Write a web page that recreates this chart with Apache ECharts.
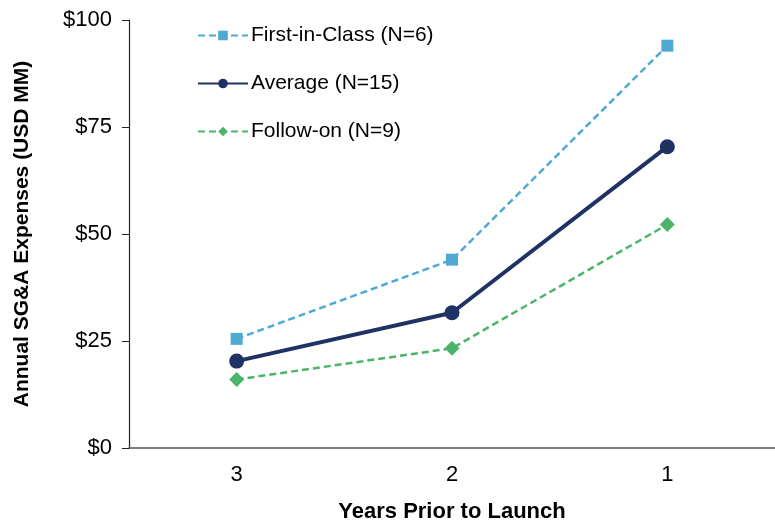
<!DOCTYPE html>
<html><head><meta charset="utf-8">
<script src="https://cdn.jsdelivr.net/npm/echarts@6/dist/echarts.min.js"></script>
<style>html,body{margin:0;padding:0;background:#fff}#c{width:775px;height:520px}</style>
</head><body><div id="c"></div>
<script>
const categories = ['3', '2', '1'];
const firstInClass = [25.5, 44.0, 94.0];
const average = [20.3, 31.6, 70.4];
const followOn = [16.0, 23.3, 52.2];
const seriesNames = ['First-in-Class (N=6)', 'Average (N=15)', 'Follow-on (N=9)'];
const yTicks = [0, 25, 50, 75, 100];

const font = 'Liberation Sans, Arial, sans-serif';
const chart = echarts.init(document.getElementById('c'));
chart.setOption({
  animation: false,
  grid: { left: 129, right: 0, top: 20, bottom: 72, outerBoundsMode: 'none', containLabel: false },
  legend: {
    orient: 'vertical', left: 197, top: 25, itemGap: 27, padding: 0,
    itemWidth: 50, itemHeight: 12,
    textStyle: { fontFamily: font, fontSize: 21, color: '#000', padding: [0, 0, 0, -2] },
    data: seriesNames
  },
  xAxis: {
    type: 'category', data: categories,
    name: 'Years Prior to Launch', nameLocation: 'middle', nameGap: 53,
    nameTextStyle: { fontFamily: font, fontSize: 22, fontWeight: 'bold', color: '#000' },
    axisLine: { lineStyle: { color: '#555', width: 1.5 } },
    axisTick: { inside: true, length: 6, lineStyle: { color: '#555' } },
    axisLabel: { fontFamily: font, fontSize: 22, color: '#000', margin: 16 }
  },
  yAxis: {
    type: 'value', min: 0, max: 100, interval: 25,
    name: 'Annual SG&A Expenses (USD MM)', nameLocation: 'middle', nameGap: 96,
    nameTextStyle: { fontFamily: font, fontSize: 21, fontWeight: 'bold', color: '#000' },
    axisLine: { show: true, lineStyle: { color: '#222', width: 1.2 } },
    axisTick: { show: true, length: 7, lineStyle: { color: '#222' } },
    splitLine: { show: false },
    axisLabel: { fontFamily: font, fontSize: 22, color: '#000', margin: 17,
      formatter: v => yTicks.includes(v) ? '$' + v : '' }
  },
  series: [
    { name: seriesNames[0], type: 'line', data: firstInClass, symbol: 'rect', symbolSize: 12,
      itemStyle: { color: '#4FAAD3' }, lineStyle: { color: '#4FAAD3', width: 2.5, type: [7, 4] } },
    { name: seriesNames[1], type: 'line', data: average, symbol: 'circle', symbolSize: 15,
      itemStyle: { color: '#1F3263' }, lineStyle: { color: '#1F3263', width: 4 } },
    { name: seriesNames[2], type: 'line', data: followOn, symbol: 'diamond', symbolSize: 15,
      itemStyle: { color: '#4BB46A' }, lineStyle: { color: '#4BB46A', width: 2.5, type: [7, 4] } }
  ]
});
</script></body></html>
